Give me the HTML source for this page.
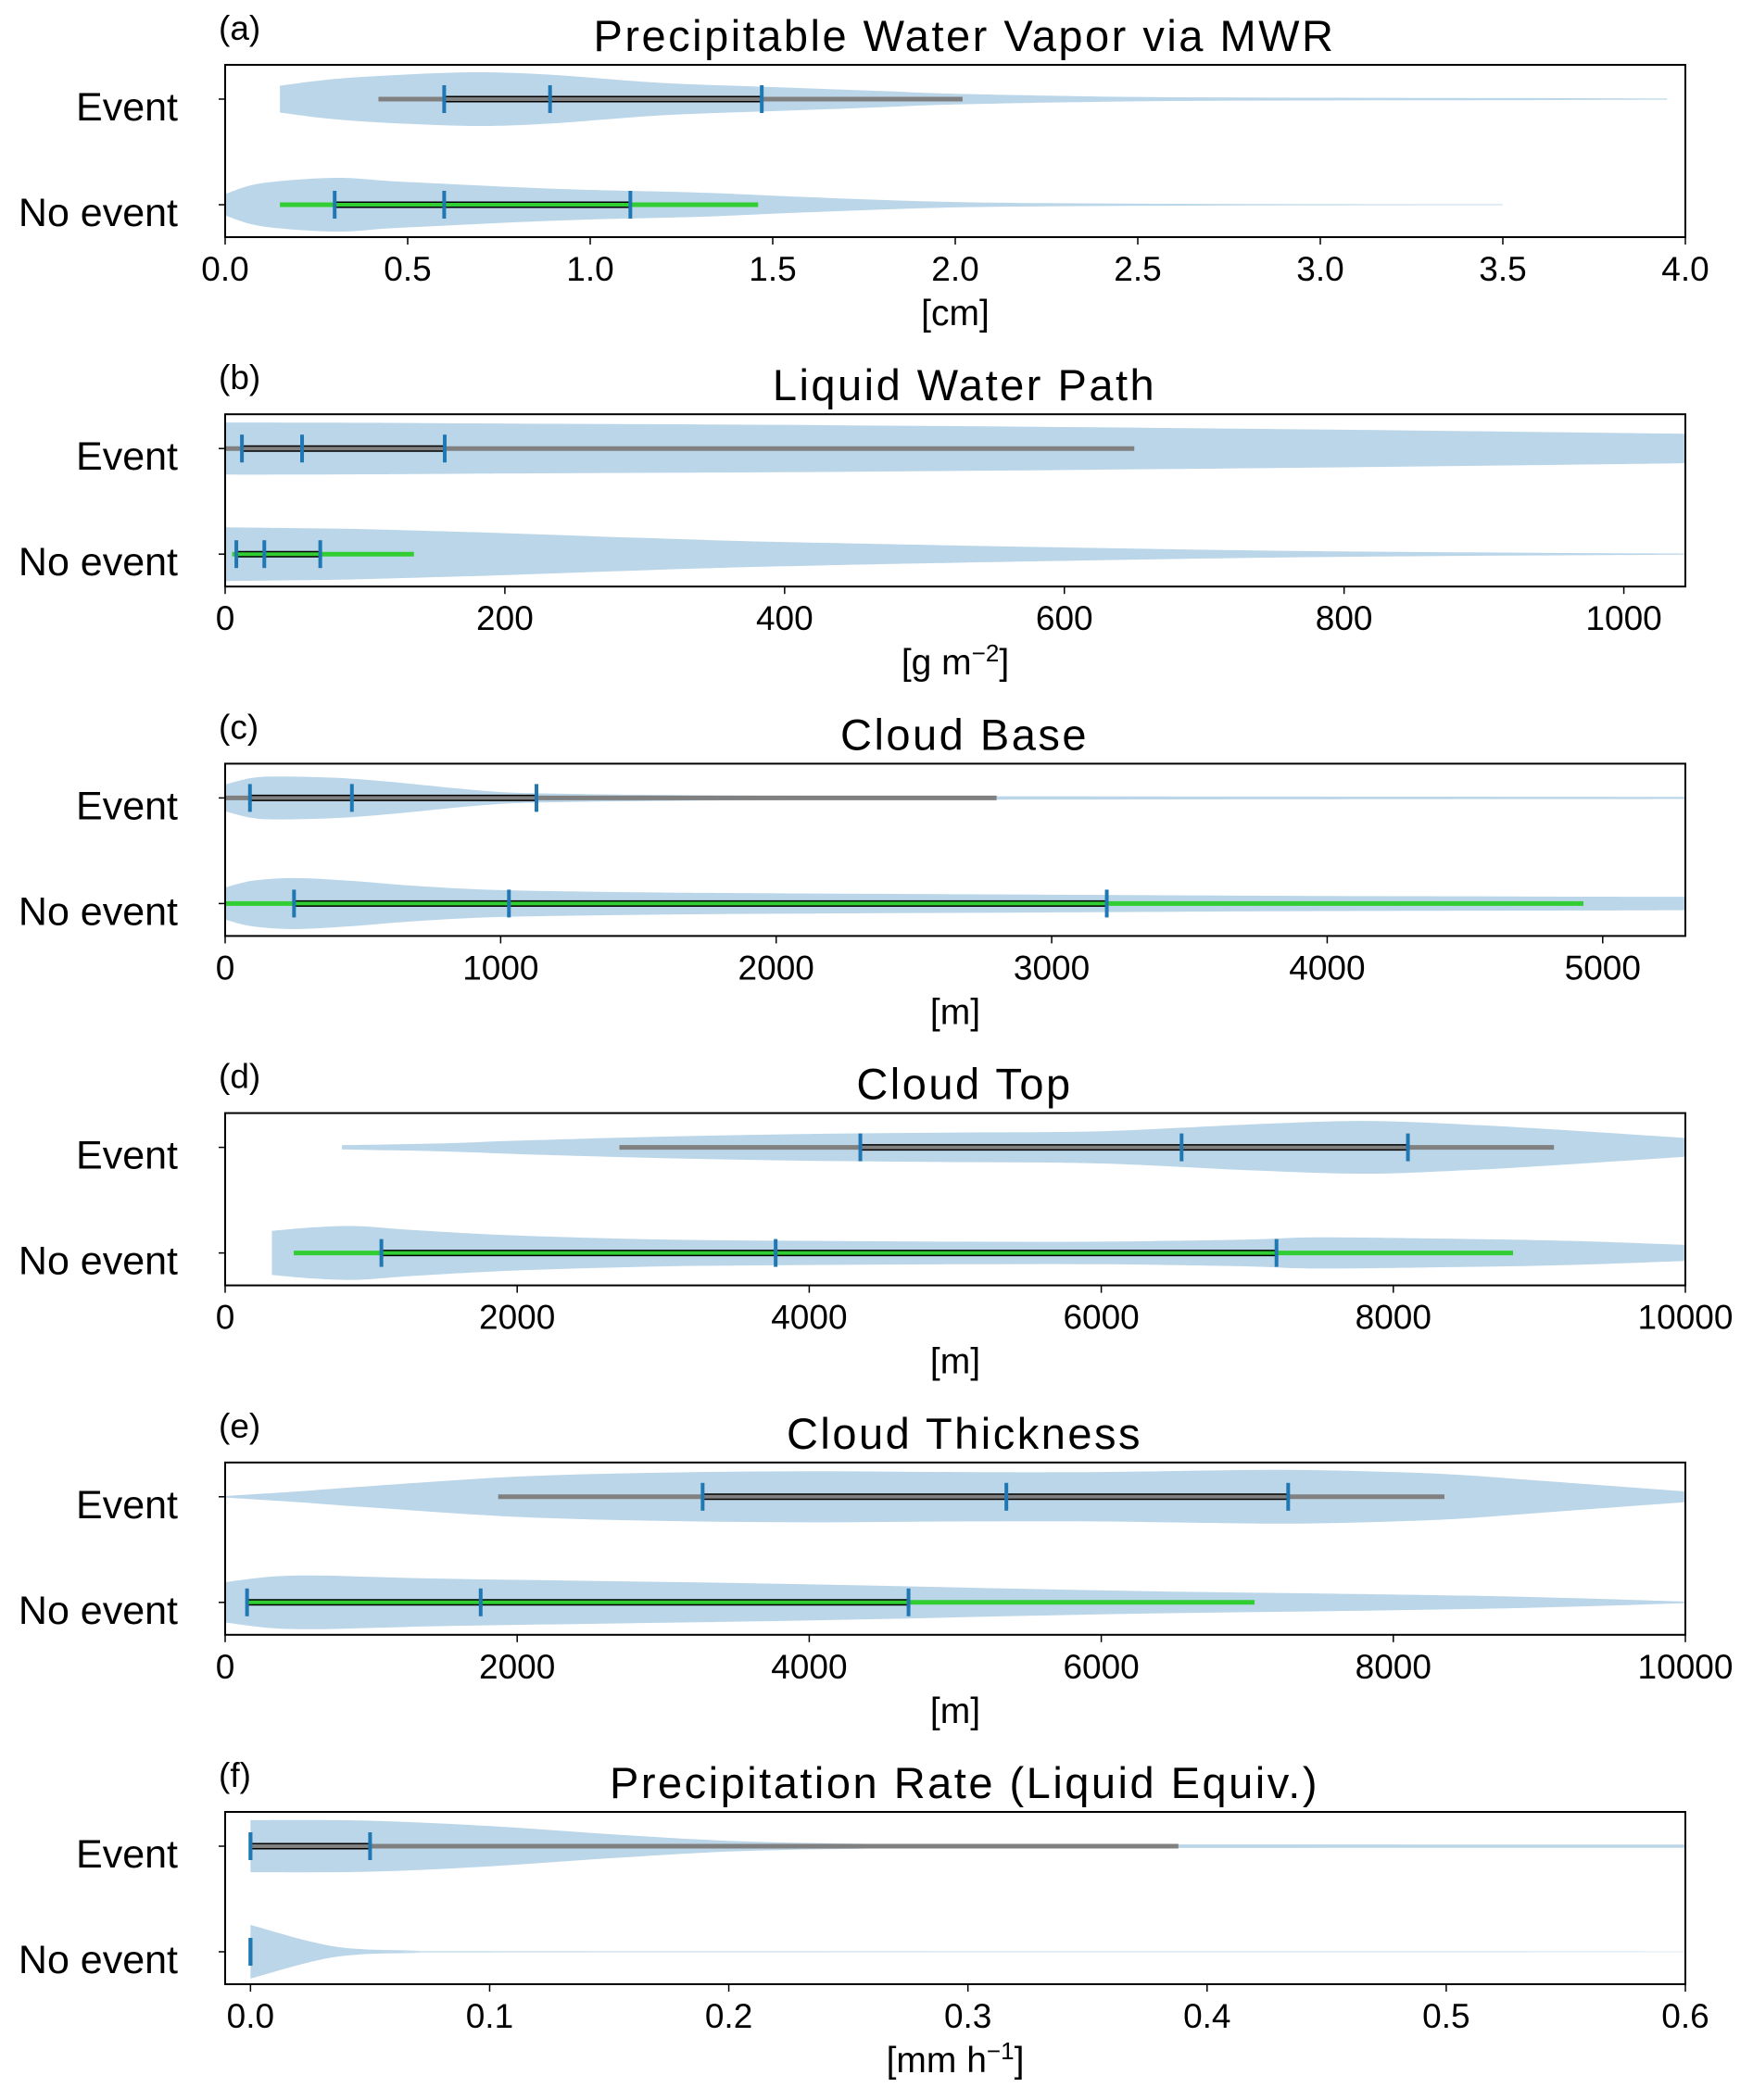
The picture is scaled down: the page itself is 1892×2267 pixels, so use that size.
<!DOCTYPE html>
<html><head><meta charset="utf-8">
<style>
body{margin:0;background:#fff;}
svg{display:block;font-family:"Liberation Sans","DejaVu Sans",sans-serif;}
</style></head>
<body>
<svg id="fig" width="1892" height="2267" viewBox="0 0 1892 2267"></svg>
<script>
// ---- data (values in axis units; widths are relative densities 0..1) ----
const panelTitles=["Precipitable Water Vapor via MWR","Liquid Water Path","Cloud Base","Cloud Top","Cloud Thickness","Precipitation Rate (Liquid Equiv.)"];
const panelLetters=["(a)","(b)","(c)","(d)","(e)","(f)"];
const panelUnits=["[cm]","[g m<tspan dy='-14' font-size='26'>−2</tspan><tspan dy='14'>]</tspan>","[m]","[m]","[m]","[mm h<tspan dy='-14' font-size='26'>−1</tspan><tspan dy='14'>]</tspan>"];
const xMin=[0,0,0,0,0,-0.0106];
const xMax=[4,1044,5300,10000,10000,0.6];
const tickA=["0.0","0.5","1.0","1.5","2.0","2.5","3.0","3.5","4.0"];
const tickB=["0","200","400","600","800","1000"];
const tickC=["0","1000","2000","3000","4000","5000"];
const tickD=["0","2000","4000","6000","8000","10000"];
const tickE=["0","2000","4000","6000","8000","10000"];
const tickF=["0.0","0.1","0.2","0.3","0.4","0.5","0.6"];
const tickLabels=[tickA,tickB,tickC,tickD,tickE,tickF];

// Event violins
const evX=[[0.15,0.3,0.5,0.7,0.9,1.2,1.5,1.8,2.0,2.5,3.0,3.5,3.95],
[0,100,200,400,600,800,1044],
[0,100,200,400,600,900,1100,1500,2000,3000,4000,5300],
[800,1500,2000,3000,4000,5000,6000,7000,7800,8500,9000,10000],
[0,500,1000,2000,3000,4000,5000,6000,7200,8000,8500,9000,10000],
[0,0.05,0.1,0.15,0.2,0.25,0.3,0.6]];
const evW=[[0.5,0.75,0.92,1.0,0.9,0.6,0.45,0.3,0.2,0.08,0.05,0.04,0.02],
[0.97,0.96,0.93,0.88,0.8,0.7,0.55],
[0.5,0.75,0.8,0.75,0.6,0.3,0.18,0.12,0.08,0.06,0.05,0.04],
[0.08,0.15,0.25,0.4,0.5,0.55,0.6,0.85,0.98,0.85,0.7,0.35],
[0.03,0.2,0.4,0.75,0.9,0.95,0.92,0.92,1.0,0.92,0.8,0.6,0.2],
[0.97,0.95,0.75,0.45,0.2,0.1,0.07,0.06]];
// No-event violins
const neX=[[0,0.1,0.3,0.45,0.6,0.8,1.0,1.3,1.6,2.0,2.5,3.0,3.5],
[0,50,100,200,300,400,600,800,1044],
[0,100,250,450,700,1000,1500,2000,3000,4000,5300],
[320,600,900,1300,2000,3000,4000,5000,6000,7000,7500,8500,9200,10000],
[0,300,600,1000,1500,2500,3500,4500,5500,6500,7500,8500,9300,10000],
[0,0.035,0.07,0.1,0.6]];
const neW=[[0.4,0.8,1.0,0.88,0.78,0.65,0.55,0.45,0.28,0.1,0.04,0.02,0.015],
[1.0,0.97,0.93,0.78,0.6,0.45,0.25,0.1,0.02],
[0.6,0.85,0.95,0.85,0.65,0.5,0.42,0.38,0.33,0.28,0.25],
[0.82,0.95,1.0,0.85,0.65,0.5,0.45,0.42,0.42,0.5,0.58,0.52,0.45,0.3],
[0.75,0.95,1.0,0.95,0.88,0.8,0.72,0.62,0.5,0.4,0.33,0.25,0.15,0.03],
[1.0,0.2,0.04,0.02,0.01]];
// summary statistics: [whiskerMin, q1, median, q3, whiskerMax]
const evStats=[[0.42,0.6,0.89,1.47,2.02],[0,12,55,157,650],[0,90,460,1130,2800],[2700,4350,6550,8100,9100],[1870,3270,5350,7280,8350],[0,0,0,0.05,0.388]];
const neStats=[[0.15,0.3,0.6,1.11,1.46],[5,8,28,68,135],[0,250,1030,3200,4930],[470,1070,3770,7200,8820],[150,150,1750,4680,7050],[0,0,0,0,0]];
const neShowWhisker=[true,true,true,true,true,false];

// ---- layout ----
const NS="http://www.w3.org/2000/svg";
const svg=document.getElementById('fig');
const L=243,R=1819,H=186,TOP0=70,STEP=377.2,HW=29;
function mk(tag,attrs,parent){const e=document.createElementNS(NS,tag);for(const k in attrs)e.setAttribute(k,attrs[k]);(parent||svg).appendChild(e);return e;}
function smoothPath(pts){
  let d="M"+pts[0][0]+","+pts[0][1];
  for(let i=0;i<pts.length-1;i++){
    const p0=pts[Math.max(0,i-1)],p1=pts[i],p2=pts[i+1],p3=pts[Math.min(pts.length-1,i+2)];
    const c1x=p1[0]+(p2[0]-p0[0])/6,c1y=p1[1]+(p2[1]-p0[1])/6;
    const c2x=p2[0]-(p3[0]-p1[0])/6,c2y=p2[1]-(p3[1]-p1[1])/6;
    d+=" C"+c1x+","+c1y+" "+c2x+","+c2y+" "+p2[0]+","+p2[1];
  }
  return d;
}
for(let p=0;p<6;p++){
  const top=TOP0+p*STEP,bot=top+H;
  const sx=v=>L+(v-xMin[p])/(xMax[p]-xMin[p])*(R-L);
  const g=mk('g',{});
  
  
  const yEv=top+37,yNe=bot-35;
  // violins
  [[evX[p],evW[p],yEv,'event'],[neX[p],neW[p],yNe,'no-event']].forEach(([xs,ws,yc,nm])=>{
    const upper=xs.map((x,i)=>[sx(x),yc-ws[i]*HW]);
    const lower=xs.map((x,i)=>[sx(x),yc+ws[i]*HW]).reverse();
    let d=smoothPath(upper)+" L"+lower[0][0]+","+lower[0][1]+smoothPath(lower).replace(/^M[^C]*/,"")+" Z";
    const v=mk('path',{d:d,fill:'#1f77b4','fill-opacity':0.3,stroke:'none'},g);
    
    
  });
  // summary lines
  [[evStats[p],yEv,'#808080','event',true],[neStats[p],yNe,'#32cd32','no-event',neShowWhisker[p]]].forEach(([s,yc,col,nm,show])=>{
    if(show){
      const w=mk('line',{x1:sx(s[0]),x2:sx(s[4]),y1:yc,y2:yc,stroke:col,'stroke-width':5},g);
      
      
      if(s[3]>s[1]){
        const b=mk('line',{x1:sx(s[1]),x2:sx(s[3]),y1:yc,y2:yc,stroke:'#000','stroke-width':7},g);
        
        
        const c=mk('line',{x1:sx(s[1]),x2:sx(s[3]),y1:yc,y2:yc,stroke:col,'stroke-width':4},g);
        
        
      }
    }
    [s[1],s[2],s[3]].forEach((q,qi)=>{
      const t=mk('line',{x1:sx(q),x2:sx(q),y1:yc-15,y2:yc+15,stroke:'#1f77b4','stroke-width':4},g);
      
      
    });
  });
  // frame
  const fr=mk('rect',{x:L,y:top,width:R-L,height:H,fill:'none',stroke:'#000','stroke-width':2},g);
  
  
  // y ticks and labels
  [[yEv,'Event'],[yNe,'No event']].forEach(([yc,t])=>{
    mk('line',{x1:L-7,x2:L,y1:yc,y2:yc,stroke:'#000','stroke-width':1.5},g);
    const tx=mk('text',{x:192,y:yc+23,'text-anchor':'end','font-size':43,fill:'#000'},g);
    tx.textContent=t;
    
    
  });
  // x ticks
  const labs=tickLabels[p];
  labs.forEach(lb=>{
    const v=parseFloat(lb),x=sx(v);
    mk('line',{x1:x,x2:x,y1:bot,y2:bot+8,stroke:'#000','stroke-width':1.5},g);
    const tx=mk('text',{x:x,y:bot+47,'text-anchor':'middle','font-size':37,fill:'#000'},g);
    tx.textContent=lb;
    
    
  });
  const xl=mk('text',{x:(L+R)/2,y:bot+95,'text-anchor':'middle','font-size':39,fill:'#000'},g);
  xl.innerHTML=panelUnits[p];
  
  
  const ti=mk('text',{x:(L+R)/2+10,y:top-15,'text-anchor':'middle','font-size':47,'letter-spacing':2.5,fill:'#000'},g);
  ti.textContent=panelTitles[p];
  
  
  const le=mk('text',{x:236,y:top-27,'font-size':37,fill:'#000'},g);
  le.textContent=panelLetters[p];
  
  
}
</script>
</body></html>
